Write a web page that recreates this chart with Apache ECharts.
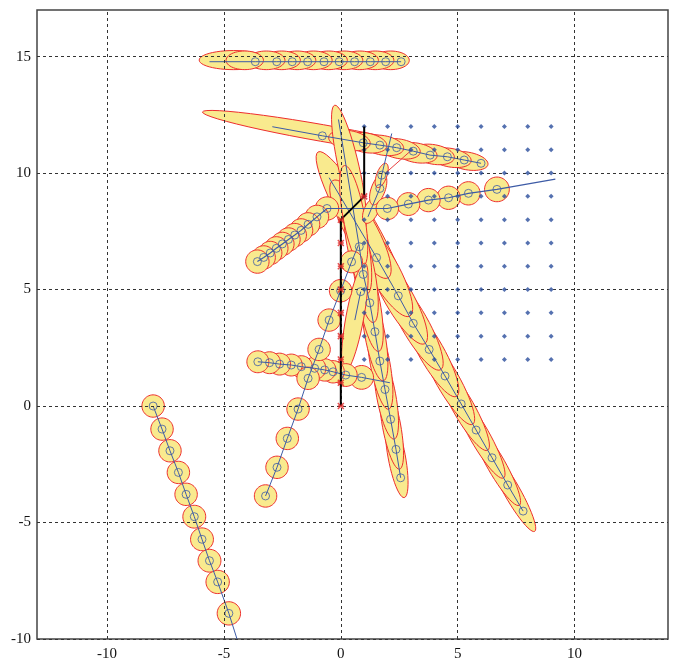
<!DOCTYPE html>
<html><head><meta charset="utf-8">
<script src="https://cdn.jsdelivr.net/npm/echarts@6/dist/echarts.min.js"></script>
<style>html,body{margin:0;padding:0;background:#fff}#c{width:677px;height:661px}</style>
</head><body><div id="c"></div>
<script>
const xTicks=[-10,-5,0,5,10];
const yTicks=[-10,-5,0,5,10,15];

// Track H (lower left, circles)
const hX=[-8.03,-7.65,-7.31,-6.95,-6.62,-6.27,-5.94,-5.62,-5.27,-4.79];
const hY=[0.00,-0.99,-1.92,-2.85,-3.79,-4.75,-5.72,-6.64,-7.55,-8.90];
const hR=[0.48,0.48,0.48,0.48,0.48,0.49,0.49,0.49,0.50,0.50];
const hTail=[[-4.41,-10.1]];

// Track A (top, horizontal)
const aX=[-3.66,-2.74,-2.08,-1.42,-0.72,-0.07,0.59,1.26,1.92,2.58];
const aY=[14.78,14.78,14.78,14.78,14.78,14.78,14.78,14.78,14.78,14.78];
const aHead=[[-5.62,14.78]];
const aEll=[[-4.59,14.85,1.47,0.41,0],
 [-4.11,14.84,0.80,0.40,0],[-3.19,14.84,0.80,0.40,0],[-2.53,14.84,0.80,0.40,0],[-1.87,14.84,0.80,0.40,0],
 [-1.17,14.84,0.80,0.40,0],[-0.52,14.84,0.80,0.40,0],[0.14,14.84,0.80,0.40,0],[0.81,14.84,0.80,0.40,0],
 [1.47,14.84,0.80,0.40,0],[2.13,14.84,0.80,0.40,0]];

// Track B (second, slightly descending)
const bX=[-0.79,0.96,1.67,2.39,3.10,3.82,4.56,5.28,6.00];
const bY=[11.60,11.30,11.20,11.09,10.94,10.77,10.70,10.56,10.42];
const bHead=[[-2.93,11.99]];
const bEll=[[-0.80,11.72,5.20,0.36,-10],
 [0.37,11.40,0.90,0.42,-10],[1.08,11.30,0.90,0.42,-10],[1.80,11.19,0.90,0.42,-10],[2.51,11.04,0.90,0.42,-10],
 [3.23,10.87,0.90,0.42,-10],[3.97,10.80,0.90,0.42,-10],[4.69,10.66,0.90,0.40,-10],[5.41,10.52,0.90,0.38,-10]];

// Track D/C (diagonal chain then rightward)
const dX=[-3.57,-3.30,-3.02,-2.76,-2.50,-2.24,-1.97,-1.70,-1.40,-1.02,-0.59,1.99,2.89,3.75,4.61,5.46,6.68];
const dY=[6.20,6.38,6.57,6.77,6.96,7.15,7.34,7.54,7.80,8.12,8.48,8.48,8.67,8.84,8.94,9.13,9.30];
const dR=[0.50,0.50,0.50,0.50,0.50,0.50,0.50,0.50,0.50,0.50,0.50,0.48,0.49,0.50,0.50,0.50,0.53];
const dTail=[[9.18,9.74]];

// Track E (low horizontal)
const eX=[-3.55,-3.05,-2.62,-2.12,-1.69,-1.12,-0.69,-0.33,0.21,0.89];
const eY=[1.90,1.86,1.80,1.76,1.69,1.62,1.55,1.47,1.33,1.23];
const eR=[0.47,0.47,0.47,0.47,0.47,0.48,0.48,0.48,0.49,0.51];
const eTail=[[2.10,1.00]];

// Track F (rising from bottom)
const fX=[-3.22,-2.73,-2.29,-1.83,-1.40,-0.93,-0.50,-0.01,0.46];
const fY=[-3.86,-2.63,-1.39,-0.13,1.19,2.43,3.69,4.95,6.19];
const fR=[0.48,0.48,0.48,0.48,0.48,0.48,0.48,0.48,0.47];
const fTail=[[0.75,6.90]];

// Band 1 (wide diagonal, to lower right)
const p1X=[1.53,2.46,3.10,3.78,4.46,5.15,5.79,6.47,7.14,7.80];
const p1Y=[6.37,4.73,3.55,2.43,1.29,0.09,-1.03,-2.22,-3.39,-4.51];
const p1Head=[[-0.50,9.80]];
const p1Ell=[[0.90,7.60,3.80,0.66,-60.5],
 [0.84,7.59,2.40,0.66,-60.5],[1.77,5.95,2.40,0.64,-60.5],[2.46,4.68,2.30,0.61,-60.5],[3.14,3.56,2.30,0.58,-60.5],
 [3.87,2.33,2.20,0.54,-60.5],[4.56,1.13,2.20,0.50,-60.5],[5.25,-0.07,2.10,0.46,-60.5],[5.93,-1.26,2.10,0.42,-60.5],
 [6.65,-2.52,2.00,0.39,-60.5],[7.31,-3.64,2.00,0.35,-60.5]];

// Band 2 (narrow steep)
const p2X=[0.79,0.96,1.24,1.46,1.67,1.89,2.13,2.36,2.56];
const p2Y=[6.84,5.65,4.43,3.19,1.93,0.71,-0.57,-1.86,-3.08];
const p2Head=[[-0.10,12.30]];
const p2Ell=[[0.35,10.20,2.78,0.44,-77.3],
 [0.55,8.16,2.20,0.46,-79.6],[0.72,6.97,2.20,0.46,-79.6],[1.02,5.65,2.10,0.45,-79.6],[1.24,4.41,2.10,0.44,-79.6],
 [1.46,3.05,2.00,0.43,-79.6],[1.68,1.83,2.00,0.42,-79.6],[1.94,0.45,1.90,0.41,-79.6],[2.17,-0.84,1.90,0.39,-79.6],
 [2.39,-2.16,1.80,0.37,-79.6]];

// Band 3 (short, tilted up-right)
const p3X=[0.85]; const p3Y=[4.91];
const p3Head=[[0.60,3.69]];
const p3Ell=[[0.60,3.80,2.37,0.38,79.6]];

// Small cluster near (1.5, 9)
const sX=[2.18,1.75,1.67,1.16]; const sY=[11.70,9.91,9.34,8.12];
const sMarkX=[1.75,1.67]; const sMarkY=[9.91,9.34];
const sEll=[[1.30,8.40,0.60,0.30,65],[1.60,9.30,0.70,0.30,70],[1.75,9.90,0.55,0.22,70]];
const redLine=[[3.03,10.99],[1.89,9.98]];

// Reference path and its markers
const pathX=[0,0,1,1]; const pathY=[0,8,9,12];
const markX=[0,0,0,0,0,0,0,0,0,1]; const markY=[0,1,2,3,4,5,6,7,8,9];

// Grid of dots
const dotXs=[1,2,3,4,5,6,7,8,9];
const dotYs=[2,3,4,5,6,7,8,9,10,11,12];

const zip=(xs,ys)=>xs.map((x,i)=>[x,ys[i]]);
const circ=(xs,ys,rs)=>xs.map((x,i)=>[x,ys[i],rs[i],rs[i],0]);
const rev=a=>a.slice().reverse();

const ellipses=[].concat(
  rev(circ(hX,hY,hR)),
  [aEll[0]], rev(aEll.slice(1)),
  [bEll[0]], rev(bEll.slice(1)),
  [p1Ell[0]], rev(p1Ell.slice(1)),
  [p2Ell[0]], rev(p2Ell.slice(1)),
  p3Ell, sEll,
  rev(circ(dX,dY,dR)),
  rev(circ(eX,eY,eR)),
  rev(circ(fX,fY,fR))
);

const lines=[
  zip(hX,hY).concat(hTail),
  aHead.concat(zip(aX,aY)),
  bHead.concat(zip(bX,bY)),
  zip(dX,dY).concat(dTail),
  zip(eX,eY).concat(eTail),
  zip(fX,fY).concat(fTail),
  p1Head.concat(zip(p1X,p1Y)),
  p2Head.concat(zip(p2X,p2Y)),
  p3Head.concat(zip(p3X,p3Y)),
  zip(sX,sY)
];
const markers=[].concat(zip(hX,hY),zip(aX,aY),zip(bX,bY),zip(dX,dY),zip(eX,eY),zip(fX,fY),
  zip(p1X,p1Y),zip(p2X,p2Y),zip(p3X,p3Y),zip(sMarkX,sMarkY));
const dots=[]; dotXs.forEach(x=>dotYs.forEach(y=>dots.push([x,y])));

function renderEllipse(params, api){
  const cx=api.value(0), cy=api.value(1), a=api.value(2), b=api.value(3), ang=api.value(4)*Math.PI/180;
  const pts=[]; const N=48;
  for(let i=0;i<N;i++){
    const t=2*Math.PI*i/N;
    const ex=a*Math.cos(t), ey=b*Math.sin(t);
    pts.push(api.coord([cx+ex*Math.cos(ang)-ey*Math.sin(ang), cy+ex*Math.sin(ang)+ey*Math.cos(ang)]));
  }
  return {type:'polygon', shape:{points:pts}, style:{fill:'#f9ea8e', stroke:'#ee2e2e', lineWidth:1}};
}

const BLUE='#3d5ba6';
const series=[
  {type:'line', data:[], silent:true, z:1,
   markLine:{silent:true, symbol:'none', label:{show:false}, animation:false,
     lineStyle:{color:'#333', type:[3,3], width:1},
     data:xTicks.map(v=>({xAxis:v})).concat(yTicks.map(v=>({yAxis:v})))}},
  {type:'custom', renderItem:renderEllipse, data:ellipses, encode:{x:0,y:1}, z:2, silent:true, animation:false}
];
lines.forEach((l,i)=>series.push({type:'line', data:l, symbol:'none', z:3, silent:true, animation:false,
  lineStyle:{color:BLUE, width: i===3 ? 1.2 : 1}}));
series.push({type:'line', data:redLine, symbol:'none', z:3, silent:true, animation:false, lineStyle:{color:'#e84040', width:1}});
series.push({type:'scatter', data:markers, symbol:'circle', symbolSize:8, z:4, silent:true, animation:false,
  itemStyle:{color:'rgba(0,0,0,0)', borderColor:BLUE, borderWidth:1}});
series.push({type:'scatter', data:dots, symbol:'diamond', symbolSize:5, z:5, silent:true, animation:false,
  itemStyle:{color:'#2a4d9c'}});
series.push({type:'line', data:zip(pathX,pathY), symbol:'none', z:6, silent:true, animation:false,
  lineStyle:{color:'#000', width:2}});
series.push({type:'scatter', data:zip(markX,markY), z:7, silent:true, animation:false,
  symbol:'path://M-1,-1L1,1M1,-1L-1,1M-1,0L1,0', symbolSize:6,
  itemStyle:{color:'rgba(0,0,0,0)', borderColor:'#e02525', borderWidth:1.5}});

const chart=echarts.init(document.getElementById('c'),null,{renderer:'canvas'});
chart.setOption({
  animation:false,
  grid:{left:37, top:10, width:631, height:629, show:true, borderColor:'#444', borderWidth:1.5, backgroundColor:'#fff',
    containLabel:false, outerBoundsMode:'none'},
  xAxis:{type:'value', min:-13, max:14,
    axisLine:{show:false}, axisTick:{show:false},
    splitLine:{show:false},
    axisLabel:{customValues:xTicks, fontFamily:'Liberation Serif', fontSize:15, color:'#111', margin:8}},
  yAxis:{type:'value', min:-10, max:17,
    axisLine:{show:false}, axisTick:{show:false},
    splitLine:{show:false},
    axisLabel:{customValues:yTicks, fontFamily:'Liberation Serif', fontSize:15, color:'#111', margin:6}},
  series:series
});
</script></body></html>
